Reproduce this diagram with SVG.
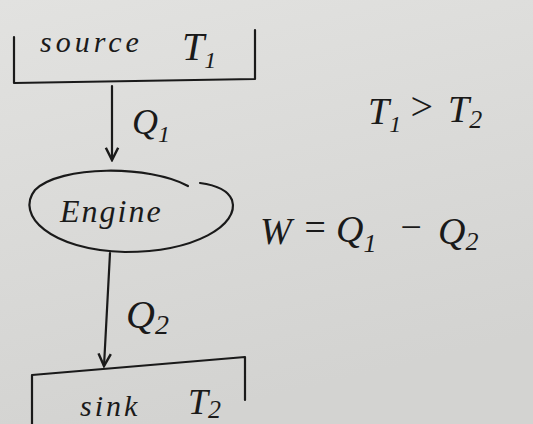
<svg xmlns="http://www.w3.org/2000/svg" width="533" height="424" viewBox="0 0 533 424">
<defs>
<linearGradient id="bg" x1="0" y1="0" x2="0.3" y2="1">
<stop offset="0" stop-color="#e2e2e0"/>
<stop offset="1" stop-color="#d3d3d1"/>
</linearGradient>
<marker id="ah" viewBox="0 0 10 10" refX="9" refY="5" markerWidth="7" markerHeight="7" orient="auto">
<path d="M1,1 L9,5 L1,9" fill="none" stroke="#1a1a1a" stroke-width="1.6"/>
</marker>
</defs>
<style>
.ink{fill:none;stroke:#1a1a1a;stroke-width:2.2;stroke-linecap:round;stroke-linejoin:round}
.hw{font-family:"Liberation Serif",serif;font-style:italic;fill:#1a1a1a}
</style>
<rect width="533" height="424" fill="url(#bg)"/>
<g id="source">
<path class="ink" d="M14,37 L14,83 L255,79 L255,30"/>
<text class="hw" font-size="30"><tspan x="40" y="52" letter-spacing="4">source</tspan><tspan x="182" y="60" font-size="40">T</tspan><tspan font-size="24" dy="8">1</tspan></text>
</g>
<g id="engine">
<path class="ink" d="M188,186 C150,165 60,165 35,190 C15,215 50,250 125,252 C195,252 240,225 232,200 C228,190 215,185 200,183"/>
<text class="hw" x="60" y="222" font-size="32" letter-spacing="2">Engine</text>
</g>
<g id="sink">
<path class="ink" d="M32,424 L32,375 L245,357 L245,400"/>
<text class="hw" font-size="30"><tspan x="80" y="416" letter-spacing="3">sink</tspan><tspan x="188" y="414" font-size="36">T</tspan><tspan font-size="26" dy="4">2</tspan></text>
</g>
<g id="connectors">
<path class="ink" d="M112,86 L112,160" marker-end="url(#ah)"/>
<path class="ink" d="M110,253 L104,366" marker-end="url(#ah)"/>
</g>
<g id="labels">
<text class="hw" x="132" y="134" font-size="36">Q<tspan font-size="24" dy="8">1</tspan></text>
<text class="hw" x="126" y="328" font-size="40">Q<tspan font-size="28" dy="6">2</tspan></text>
<text class="hw" font-size="38"><tspan x="368" y="124">T</tspan><tspan font-size="24" dy="8">1</tspan><tspan x="408" y="120" font-size="40">&gt;</tspan><tspan x="448" y="122">T</tspan><tspan font-size="26" dy="6">2</tspan></text>
<text class="hw" font-size="38"><tspan x="260" y="244">W</tspan><tspan x="302" y="240">=</tspan><tspan x="336" y="242">Q</tspan><tspan font-size="26" dy="10">1</tspan><tspan x="398" y="240">−</tspan><tspan x="438" y="244">Q</tspan><tspan font-size="26" dy="6">2</tspan></text>
</g>
</svg>
